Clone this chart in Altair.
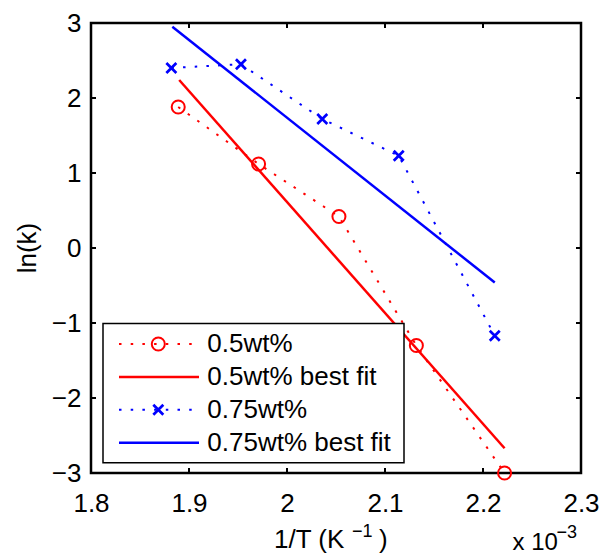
import altair as alt
import pandas as pd

# ---- data (x in units of 1e-3 K^-1) ----
X_05 = [1.889, 1.971, 2.053, 2.132, 2.222]
Y_05 = [1.88, 1.12, 0.42, -1.30, -3.00]
X_075 = [1.882, 1.953, 2.036, 2.114, 2.212]
Y_075 = [2.40, 2.45, 1.72, 1.23, -1.17]
FIT_05_X = [1.890, 2.222]
FIT_05_Y = [2.24, -2.67]
FIT_075_X = [1.883, 2.212]
FIT_075_Y = [2.95, -0.46]

X_TICKS = [1.8, 1.9, 2.0, 2.1, 2.2, 2.3]
Y_TICKS = [-3, -2, -1, 0, 1, 2, 3]

LEG_LABELS = ["0.5wt%", "0.5wt% best fit", "0.75wt%", "0.75wt% best fit"]
LEG_COLORS = ["red", "red", "blue", "blue"]
LEG_STYLE = ["dotted", "solid", "dotted", "solid"]
LEG_MARK = ["circle", "none", "x", "none"]

FONT = "Liberation Sans"
W, H = 490, 450
XPATH = "M-1,-1L1,1M-1,1L1,-1"

XSCALE = alt.Scale(domain=[1.8, 2.3], nice=False, zero=False)
YSCALE = alt.Scale(domain=[-3, 3], nice=False, zero=False)
XAXIS = alt.Axis(values=X_TICKS, format="~g", title=None, domain=False, ticks=False,
                 grid=False, labelFontSize=26, labelFont=FONT, labelColor="black",
                 labelPadding=17, labelFlush=False, labelOverlap=False, labelBound=False)
YAXIS = alt.Axis(values=Y_TICKS, format="d", title=None, domain=False, ticks=False,
                 grid=False, labelFontSize=26, labelFont=FONT, labelColor="black",
                 labelPadding=10, labelFlush=False, labelOverlap=False, labelBound=False)


def xe(f="x"):
    return alt.X(f"{f}:Q", scale=XSCALE, axis=XAXIS)


def ye(f="y"):
    return alt.Y(f"{f}:Q", scale=YSCALE, axis=YAXIS)


df05 = pd.DataFrame({"x": X_05, "y": Y_05, "i": list(range(len(X_05)))})
df075 = pd.DataFrame({"x": X_075, "y": Y_075, "i": list(range(len(X_075)))})
fit05 = pd.DataFrame({"x": FIT_05_X, "y": FIT_05_Y})
fit075 = pd.DataFrame({"x": FIT_075_X, "y": FIT_075_Y})
xt = pd.DataFrame({"x": X_TICKS})
yt = pd.DataFrame({"y": Y_TICKS})
leg = pd.DataFrame({"label": LEG_LABELS, "color": LEG_COLORS, "style": LEG_STYLE,
                    "mk": LEG_MARK, "row": list(range(4))})
one = alt.Data(values=[{}])

frame = alt.Chart(one).mark_rect(fillOpacity=0, stroke="black", strokeWidth=2.5).encode(
    x=alt.value(0), x2=alt.value(W), y=alt.value(0), y2=alt.value(H))

tick_b = alt.Chart(xt).mark_rule(color="black", strokeWidth=2).encode(
    x=xe(), y=alt.value(H), y2=alt.value(H - 5))
tick_t = alt.Chart(xt).mark_rule(color="black", strokeWidth=2).encode(
    x=xe(), y=alt.value(0), y2=alt.value(5))
tick_l = alt.Chart(yt).mark_rule(color="black", strokeWidth=2).encode(
    y=ye(), x=alt.value(0), x2=alt.value(5))
tick_r = alt.Chart(yt).mark_rule(color="black", strokeWidth=2).encode(
    y=ye(), x=alt.value(W), x2=alt.value(W - 5))

dot05 = alt.Chart(df05).mark_line(color="red", strokeWidth=2, strokeDash=[2.5, 9.2]).encode(
    x=xe(), y=ye(), order="i:Q")
dot075 = alt.Chart(df075).mark_line(color="blue", strokeWidth=2, strokeDash=[2.5, 9.2]).encode(
    x=xe(), y=ye(), order="i:Q")
fitl05 = alt.Chart(fit05).mark_line(color="red", strokeWidth=2.5).encode(x=xe(), y=ye())
fitl075 = alt.Chart(fit075).mark_line(color="blue", strokeWidth=2.5).encode(x=xe(), y=ye())
pts05 = alt.Chart(df05).mark_point(shape="circle", size=170, filled=False, color="red",
                                   strokeWidth=2, opacity=1).encode(x=xe(), y=ye())
pts075 = alt.Chart(df075).mark_point(shape=XPATH, size=100, filled=False, color="blue",
                                     strokeWidth=2.7, opacity=1).encode(x=xe(), y=ye())

# ---- legend ----
legbase = alt.Chart(leg).transform_calculate(py="321 + datum.row * 32.9")
PY = alt.Y("py:Q", scale=None)
legbox = alt.Chart(one).mark_rect(fill="white", stroke="black", strokeWidth=1.5).encode(
    x=alt.value(12), x2=alt.value(313), y=alt.value(300.5), y2=alt.value(439.7))
leg_solid = legbase.transform_filter("datum.style == 'solid'").mark_rule(strokeWidth=2.5).encode(
    x=alt.value(28), x2=alt.value(108), y=PY, color=alt.Color("color:N", scale=None))
leg_dot = legbase.transform_filter("datum.style == 'dotted'").mark_rule(
    strokeWidth=2, strokeDash=[2.5, 9.2]).encode(
    x=alt.value(28), x2=alt.value(108), y=PY, color=alt.Color("color:N", scale=None))
leg_circ = legbase.transform_filter("datum.mk == 'circle'").mark_point(
    shape="circle", size=170, filled=False, strokeWidth=2, opacity=1).encode(
    x=alt.value(67.3), y=PY, color=alt.Color("color:N", scale=None))
leg_x = legbase.transform_filter("datum.mk == 'x'").mark_point(
    shape=XPATH, size=100, filled=False, strokeWidth=2.7, opacity=1).encode(
    x=alt.value(67.3), y=PY, color=alt.Color("color:N", scale=None))
leg_text = legbase.mark_text(align="left", baseline="middle", fontSize=26, font=FONT,
                             color="black").encode(x=alt.value(116.3), y=PY, text="label:N")


def label(txt, x, y, size=26, angle=0, align="left"):
    kw = dict(text=txt, fontSize=size, font=FONT, color="black", align=align, baseline="middle")
    if angle:
        kw["angle"] = angle
    return alt.Chart(one).mark_text(**kw).encode(x=alt.value(x), y=alt.value(y))


titles = [
    label("1/T (K", 183, 516.5),
    label("\u22121", 261, 508.5, size=18),
    label(")", 288, 516.5),
    label("x 10", 421.5, 520, size=24),
    label("\u22123", 465.5, 510, size=18),
    label("ln(k)", -63.5, 225, angle=270, align="center"),
]

chart = alt.layer(
    frame, tick_b, tick_t, tick_l, tick_r,
    dot05, dot075, fitl05, fitl075, pts05, pts075,
    legbox, leg_dot, leg_solid, leg_circ, leg_x, leg_text,
    *titles
).properties(
    width=W, height=H,
    autosize=alt.AutoSizeParams(type="none"),
    padding={"left": 91, "top": 23, "right": 24, "bottom": 83},
    background="white",
).configure_view(stroke=None)

chart.save("out.html", embed_options={"renderer": "svg", "actions": False})
